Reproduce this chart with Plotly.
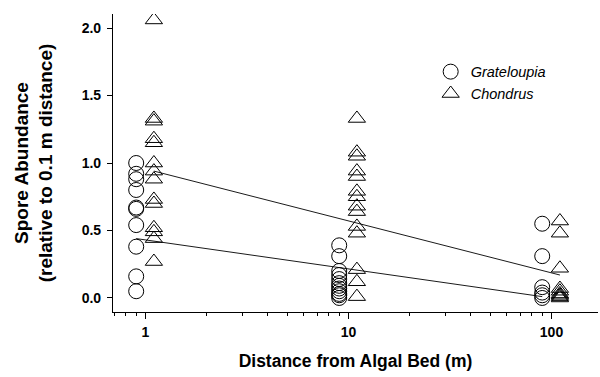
import plotly.graph_objects as go

# Distances (m) and offsets used in the figure (circles slightly left, triangles slightly right)
grat_x = [0.9]*10 + [9]*12 + [90]*6
grat_y = [1.00, 0.92, 0.88, 0.80, 0.67, 0.66, 0.54, 0.38, 0.16, 0.05,
          0.39, 0.31, 0.20, 0.17, 0.14, 0.11, 0.09, 0.07, 0.05, 0.03, 0.02, 0.00,
          0.55, 0.31, 0.08, 0.04, 0.02, 0.00]
chon_x = [1.1]*14 + [11]*14 + [110]*9
chon_y = [2.06, 1.33, 1.31, 1.18, 1.15, 1.00, 0.94, 0.88, 0.73, 0.70, 0.52, 0.49, 0.27, 0.44,
          1.33, 1.08, 1.05, 0.94, 0.90, 0.79, 0.75, 0.68, 0.64, 0.53, 0.48, 0.21, 0.12, 0.01,
          0.57, 0.48, 0.22, 0.07, 0.05, 0.03, 0.02, 0.01, 0.00]
# regression lines (endpoints)
grat_fit_x = [0.9, 90]
grat_fit_y = [0.44, 0.01]
chon_fit_x = [1.1, 110]
chon_fit_y = [0.94, 0.17]

fig = go.Figure()
fig.add_trace(go.Scatter(x=grat_fit_x, y=grat_fit_y, mode="lines",
                         line=dict(color="black", width=0.9), showlegend=False, hoverinfo="skip"))
fig.add_trace(go.Scatter(x=chon_fit_x, y=chon_fit_y, mode="lines",
                         line=dict(color="black", width=0.9), showlegend=False, hoverinfo="skip"))
fig.add_trace(go.Scatter(x=grat_x, y=grat_y, mode="markers", name="<i>Grateloupia</i>",
                         marker=dict(symbol="circle-open", size=15, color="black",
                                     line=dict(color="black", width=1))))
fig.add_trace(go.Scatter(x=chon_x, y=chon_y, mode="markers", name="<i>Chondrus</i>",
                         marker=dict(symbol="triangle-up-open", size=15, color="black",
                                     line=dict(color="black", width=1))))

font_family = "Liberation Sans, Arial, sans-serif"
fig.update_layout(
    width=600, height=377,
    margin=dict(l=113, r=2, t=14, b=65),
    paper_bgcolor="white", plot_bgcolor="white",
    font=dict(family=font_family, color="black"),
    showlegend=True,
    legend=dict(x=0.655, y=0.86, xanchor="left", yanchor="top",
                bgcolor="rgba(0,0,0,0)", font=dict(size=14.5, family=font_family),
                itemwidth=30, tracegroupgap=0),
    xaxis=dict(
        type="log", range=[-0.16, 2.229],
        showgrid=False, zeroline=False,
        showline=True, linecolor="black", linewidth=1.2,
        ticks="outside", ticklen=6, tickcolor="black",
        tickvals=[1, 10, 100], ticktext=["1", "10", "100"],
        tickfont=dict(size=14, weight="bold"), ticklabelstandoff=1,
        minor=dict(ticks="outside", ticklen=3, tickcolor="black",
                   tickvals=[0.7, 0.8, 0.9, 2, 3, 4, 5, 6, 7, 8, 9,
                             20, 30, 40, 50, 60, 70, 80, 90, 200, 300]),
        title=dict(text="Distance from Algal Bed (m)", font=dict(size=17.5, weight="bold"),
                   standoff=15),
    ),
    yaxis=dict(
        range=[-0.104, 2.104],
        showgrid=False, zeroline=False,
        showline=True, linecolor="black", linewidth=1.2,
        ticks="outside", ticklen=5, tickcolor="black",
        tickvals=[0, 0.5, 1.0, 1.5, 2.0], ticktext=["0.0", "0.5", "1.0", "1.5", "2.0"],
        tickfont=dict(size=14, weight="bold"), ticklabelstandoff=3,
        title=dict(text="Spore Abundance<br>(relative to 0.1 m distance)",
                   font=dict(size=19, weight="bold"), standoff=23),
    ),
)
fig.write_html("out.html")
